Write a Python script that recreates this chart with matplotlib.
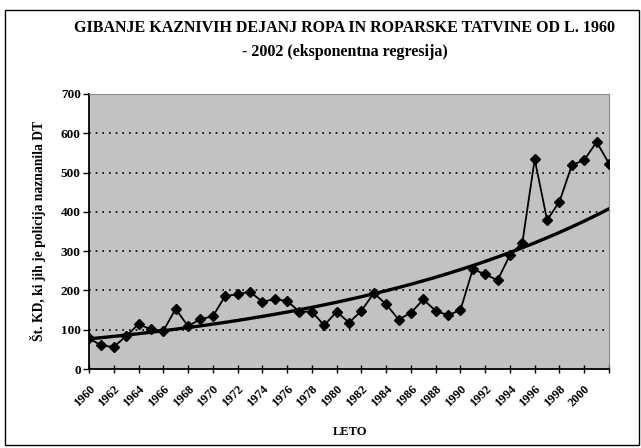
import numpy as np
import matplotlib.pyplot as plt
from matplotlib.patches import Rectangle

# data
years = list(range(1960, 2003))
cases = [78, 60, 56, 84, 114, 101, 97, 153, 109, 127,
         134, 186, 190, 197, 171, 178, 173, 146, 146, 111,
         146, 118, 148, 193, 165, 126, 143, 177, 148, 137,
         150, 254, 241, 226, 290, 321, 534, 379, 426, 519,
         532, 578, 523]
tick_years = list(range(1960, 2001, 2))
y_ticks = [0, 100, 200, 300, 400, 500, 600, 700]

title = "GIBANJE KAZNIVIH DEJANJ ROPA IN ROPARSKE TATVINE OD L. 1960\n- 2002 (eksponentna regresija)"
y_label = "Št. KD, ki jih je policija naznanila DT"
x_label = "LETO"

plt.rcParams['font.family'] = ['Liberation Serif', 'DejaVu Serif']
plt.rcParams['font.weight'] = 'bold'

fig = plt.figure(figsize=(6.41, 4.48), dpi=100)
ax = fig.add_axes([89/641, 1-369/448, (609-89)/641, (369-94)/448])
ax.set_facecolor('#c2c2c2')

x = np.array(years)
y = np.array(cases)

# exponential regression (like Excel's trendline)
b, a = np.polyfit(x - 1960, np.log(y), 1)
trend = np.exp(a + b * (x - 1960))

ax.plot(x, trend, color='black', lw=2.4, zorder=3)
ax.plot(x, y, color='black', lw=1.3, marker='D', ms=5, zorder=4)

ax.set_xlim(1960, 2002)
ax.set_ylim(0, 700)
ax.set_yticks(y_ticks)
ax.set_xticks(list(range(1960, 2003, 2)))
ax.set_xticklabels([str(t) if t in tick_years else '' for t in range(1960, 2003, 2)],
                   rotation=45, ha='right', va='top', rotation_mode='anchor',
                   fontsize=9, fontweight='bold')
ax.tick_params(axis='x', direction='inout', length=6, width=1, pad=7)
ax.tick_params(axis='y', direction='out', length=4, width=1, labelsize=9.5, pad=2)
for lab in ax.get_yticklabels():
    lab.set_fontweight('bold')

for v in y_ticks[1:-1]:
    ax.axhline(v, color='black', lw=1.2, ls=(0, (1, 3)), zorder=2)

ax.spines['top'].set_color('#8a8a8a')
ax.spines['right'].set_color('#8a8a8a')
ax.spines['left'].set_linewidth(1.3)
ax.spines['bottom'].set_linewidth(1.3)

fig.text(345/641, 1-40/448, title, ha='center', va='center', fontsize=11.5,
         fontweight='bold', linespacing=1.7)
fig.text(38/641, 1-231/448, y_label, rotation=90, ha='center', va='center',
         fontsize=9.8, fontweight='bold')
fig.text(350/641, 1-432/448, x_label, ha='center', va='center',
         fontsize=9, fontweight='bold')

fig.patches.append(Rectangle((5/641, 3/448), 634/641, 435/448, transform=fig.transFigure,
                             fill=False, edgecolor='black', lw=1))

fig.savefig('out.png', dpi=100)
